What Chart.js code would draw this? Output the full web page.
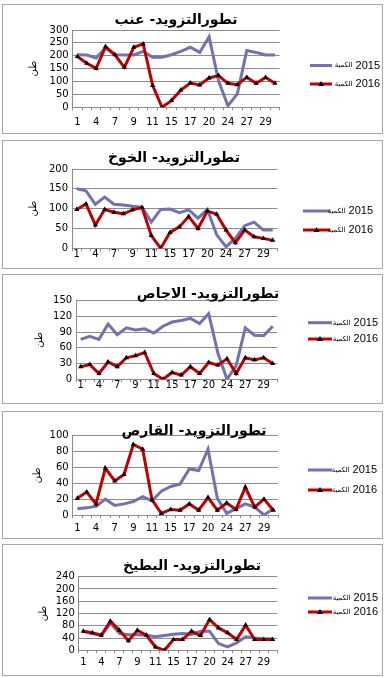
<!DOCTYPE html>
<html>
<head>
<meta charset="utf-8">
<script src="https://cdn.jsdelivr.net/npm/chart.js@4.4.1/dist/chart.umd.min.js"></script>
<style>
  body { margin: 0; background: #fff; width: 387px; height: 678px; position: relative; overflow: hidden; }
  .box { position: absolute; left: 2px; width: 379px; border: 1px solid #a6a6a6; background: #fff; }
  .box canvas { display: block; }
</style>
</head>
<body>
<div class="box" style="top:4px;height:128px"><canvas id="c0"></canvas></div>
<div class="box" style="top:140px;height:127px"><canvas id="c1"></canvas></div>
<div class="box" style="top:274px;height:128px"><canvas id="c2"></canvas></div>
<div class="box" style="top:411px;height:126px"><canvas id="c3"></canvas></div>
<div class="box" style="top:544px;height:130px"><canvas id="c4"></canvas></div>
<script>
// days of the month (every other one is labelled)
const days = ['1','3','4','6','7','8','9','10','11','13','15','16','17','18','20','22','24','25','27','28','29','30'];

const anab2015 = [204,203,191,230,204,203,203,217,194,194,204,217,233,213,274,103,6,52,220,213,203,203];
const anab2016 = [197,171,151,235,204,155,233,246,85,0,26,67,94,87,114,123,93,88,116,93,116,93];

const khawkh2015 = [150,145,111,129,111,109,106,104,66,98,99,90,97,76,98,34,4,25,57,66,46,46];
const khawkh2016 = [98,112,59,98,91,87,97,103,32,0,40,54,80,50,94,86,46,14,46,29,25,20];

const ijas2015 = [76,82,76,105,85,98,94,96,88,101,109,112,116,106,125,50,0,26,98,84,83,101];
const ijas2016 = [24,28,11,33,24,41,45,51,11,0,13,8,24,11,32,27,39,11,41,37,41,30];

const qaris2015 = [8,9,11,20,12,14,17,23,18,30,36,39,58,56,83,21,2,8,14,10,0,8];
const qaris2016 = [21,29,14,59,43,51,89,83,19,2,7,6,14,6,22,6,15,7,35,10,20,6];

const battikh2015 = [62,55,49,89,55,51,51,49,44,48,52,55,52,62,62,22,11,24,44,40,38,38];
const battikh2016 = [62,57,49,95,65,31,65,49,11,0,35,35,62,48,100,73,57,35,82,35,35,35];

const titles = ['تطورالتزويد- عنب', 'تطورالتزويد- الخوخ', 'تطورالتزويد- الاجاص', 'تطورالتزويد- القارص', 'تطورالتزويد- البطيخ'];
const series2015 = [anab2015, khawkh2015, ijas2015, qaris2015, battikh2015];
const series2016 = [anab2016, khawkh2016, ijas2016, qaris2016, battikh2016];
const yMax = [300, 200, 150, 100, 240];
const yStep = [50, 50, 30, 20, 40];
const years = ['2015', '2016'];
const qtyLabel = 'الكمية';
const unitLabel = 'طن';

// placement of each panel (canvas pixels)
const panels = [
  {left: 69.6, right: 102.3, top: 25,   xh: 25.7, xPad: 6.4,  yTitle: 24, titleX: 173, titleY: 15.7, legY: [60.5, 79], legX: [307, 329, 377]},
  {left: 69,   right: 104.6, top: 28,   xh: 19.7, xPad: -2.4, yTitle: 24, titleX: 171, titleY: 17,   legY: [70, 89],   legX: [300, 327, 370]},
  {left: 73.1, right: 104.7, top: 25.5, xh: 23.7, xPad: -3,   yTitle: 30, titleX: 205, titleY: 19,   legY: [47.7, 64], legX: [305, 329, 375]},
  {left: 69.7, right: 104,   top: 23.7, xh: 23,   xPad: 4,    yTitle: 28, titleX: 191, titleY: 19,   legY: [58, 78],   legX: [305, 329, 374]},
  {left: 75.8, right: 104.8, top: 31.7, xh: 24.7, xPad: 3.2,  yTitle: 34, titleX: 189, titleY: 21,   legY: [53, 67],   legX: [305, 329, 375]}
];

const gridColor = '#8c8c8c';
const blue = '#7272b0';
const red = '#c00000';
const tickFont = {family: 'DejaVu Sans', size: 10};

// title + legend drawn on top of the chart
const decor = {
  id: 'decor',
  afterDraw(chart, args, o) {
    const ctx = chart.ctx;
    ctx.save();
    ctx.fillStyle = '#000';
    ctx.textBaseline = 'middle';
    ctx.textAlign = 'center';
    ctx.font = 'bold 14px "DejaVu Sans"';
    ctx.fillText(o.title, o.titleX, o.titleY);

    chart.data.datasets.forEach((ds, k) => {
      const y = o.legY[k];
      ctx.strokeStyle = ds.borderColor;
      ctx.lineWidth = 3;
      ctx.beginPath();
      ctx.moveTo(o.legX[0], y);
      ctx.lineTo(o.legX[1], y);
      ctx.stroke();
      if (ds.pointRadius) {
        const cx = (o.legX[0] + o.legX[1]) / 2;
        ctx.fillStyle = '#000';
        ctx.beginPath();
        ctx.moveTo(cx, y - 3);
        ctx.lineTo(cx + 3, y + 2);
        ctx.lineTo(cx - 3, y + 2);
        ctx.closePath();
        ctx.fill();
      }
      ctx.fillStyle = '#000';
      ctx.textAlign = 'right';
      ctx.font = '11px "Liberation Sans"';
      ctx.fillText(ds.label, o.legX[2], y);
      const w = ctx.measureText(ds.label).width;
      ctx.font = '7px "DejaVu Sans"';
      ctx.fillText(qtyLabel, o.legX[2] - w - 3, y);
    });
    ctx.restore();
  }
};

function makeChart(i) {
  const p = panels[i];
  return new Chart(document.getElementById('c' + i), {
    type: 'line',
    data: {
      labels: days,
      datasets: [
        {label: years[0], data: series2015[i], borderColor: blue, borderWidth: 3, pointRadius: 0, tension: 0, order: 1},
        {label: years[1], data: series2016[i], borderColor: red, borderWidth: 3, tension: 0, order: 0,
         pointStyle: 'triangle', pointRadius: 3, pointBackgroundColor: '#000', pointBorderColor: '#000', pointBorderWidth: 0}
      ]
    },
    options: {
      responsive: true,
      maintainAspectRatio: false,
      animation: false,
      devicePixelRatio: 1,
      layout: {padding: {top: p.top, right: p.right, left: 0, bottom: 0}},
      plugins: {
        legend: {display: false},
        tooltip: {enabled: false},
        decor: {title: titles[i], titleX: p.titleX, titleY: p.titleY, legX: p.legX, legY: p.legY}
      },
      scales: {
        x: {
          offset: true,
          grid: {offset: true, drawOnChartArea: false, drawTicks: true, tickLength: 3, color: gridColor},
          border: {display: true, color: gridColor},
          ticks: {
            autoSkip: false, maxRotation: 0, padding: p.xPad, color: '#000', font: tickFont,
            callback: (v, k) => (k % 2 === 0 ? days[k] : '')
          },
          afterFit(s) { s.height = p.xh; }
        },
        y: {
          min: 0, max: yMax[i],
          ticks: {stepSize: yStep[i], autoSkip: false, padding: 4, color: '#000', font: tickFont},
          grid: {color: gridColor, drawTicks: false},
          border: {display: true, color: gridColor},
          title: {display: true, text: unitLabel, color: '#000', font: {family: 'DejaVu Sans', size: 10}, padding: {top: p.yTitle, bottom: 0}},
          afterFit(s) { s.width = p.left; }
        }
      }
    },
    plugins: [decor]
  });
}

for (let i = 0; i < 5; i++) makeChart(i);
</script>
</body>
</html>
